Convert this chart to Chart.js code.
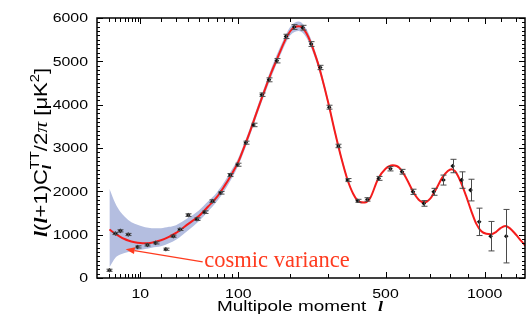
<!DOCTYPE html>
<html>
<head>
<meta charset="utf-8">
<script src="https://cdn.jsdelivr.net/npm/chart.js@4.4.1/dist/chart.umd.min.js"></script>
<style>
  html, body { margin: 0; padding: 0; background: #fff; }
  canvas { display: block; }
</style>
</head>
<body>
<canvas id="cmb" width="529" height="331"></canvas>
<script>
// Angular power spectrum D_l = l(l+1)C_l/2pi of the CMB temperature, in uK^2.

// Best-fit model curve
const modelL = [2, 3, 4, 5, 6, 8, 10, 12, 15, 20, 25, 30, 40, 50, 60, 70, 80, 90, 100, 110, 120, 130, 140, 150, 160, 170, 180, 190, 200, 210, 220, 230, 240, 250, 260, 270, 280, 300, 320, 340, 360, 380, 400, 420, 440, 470, 500, 530, 560, 590, 620, 650, 670, 700, 730, 760, 790, 810, 830, 860, 890, 920, 950, 980, 1010, 1040, 1070, 1100, 1130, 1160, 1200, 1240, 1280];
const modelD = [1120, 1020, 950, 900, 865, 825, 805, 800, 815, 870, 950, 1040, 1250, 1430, 1650, 1860, 2120, 2390, 2680, 3050, 3420, 3800, 4150, 4480, 4780, 5040, 5300, 5530, 5700, 5790, 5810, 5770, 5640, 5450, 5220, 4970, 4680, 4050, 3380, 2780, 2280, 1940, 1760, 1740, 1840, 2280, 2520, 2600, 2530, 2280, 1980, 1780, 1740, 1830, 2060, 2310, 2470, 2510, 2460, 2220, 1900, 1550, 1250, 1080, 1020, 1010, 1060, 1150, 1200, 1150, 1010, 850, 700];

// Cosmic variance band around the model
const bandL  = [2, 3, 4, 5, 6, 8, 10, 12, 15, 20, 25, 30, 40, 50, 60, 70, 80, 90, 100, 120, 140, 160, 180, 200, 220, 240, 260, 280, 300, 330, 360];
const bandLo = [250, 470, 540, 575, 600, 630, 650, 670, 700, 730, 800, 880, 1100, 1310, 1540, 1760, 2010, 2290, 2590, 3330, 4060, 4680, 5200, 5600, 5700, 5540, 5130, 4600, 3980, 3000, 2230];
const bandHi = [2060, 1720, 1530, 1420, 1340, 1250, 1205, 1170, 1150, 1150, 1180, 1220, 1390, 1560, 1770, 1970, 2220, 2490, 2770, 3510, 4240, 4880, 5400, 5800, 5920, 5740, 5310, 4760, 4120, 3120, 2330];

// Measured band powers with 1-sigma errors
const dataL   = [2, 3, 4, 6, 9, 13, 17, 23, 28, 33, 40, 48, 56, 65, 75, 88, 99, 112, 125, 140, 154, 170, 190, 209, 230, 252, 277, 303, 331, 361, 395, 430, 473, 520, 569, 618, 669, 717, 767, 816, 865, 916, 967, 1037, 1137];
const dataD   = [178, 1027, 1088, 1004, 717, 763, 810, 664, 965, 1120, 1451, 1358, 1520, 1774, 1966, 2376, 2614, 3123, 3532, 4230, 4573, 5013, 5575, 5792, 5776, 5399, 4858, 3942, 3047, 2260, 1781, 1813, 2299, 2521, 2452, 1989, 1721, 1989, 2260, 2584, 2260, 2029, 1296, 965, 965];
const dataErr = [25, 25, 25, 25, 25, 25, 25, 25, 25, 25, 30, 30, 30, 30, 30, 35, 35, 35, 40, 40, 45, 50, 50, 55, 55, 55, 50, 45, 40, 35, 35, 40, 45, 50, 55, 60, 65, 80, 115, 155, 190, 250, 316, 340, 617];

// Axis ticks
const xMajorTicks = [10, 100, 500, 1000];
const xMinorTicks = [2, 3, 4, 5, 6, 7, 8, 9, 20, 30, 40, 50, 60, 70, 80, 90, 200, 300, 400, 600, 700, 800, 900, 1100, 1200];
const yStep = 1000;
const yMinorStep = 100;

// Annotation anchors (multipole, uK^2)
const noteTip  = { l: 5.3, d: 665 };
const noteTail = { l: 54, d: 370 };
const noteText = { l: 55.7, d: 247 };

const pts = (xs, ys) => xs.map((x, i) => ({ x: x, y: ys[i] }));

// Multipole axis that spaces l as l^p (p = 0.4): stretched at low l, compressed at high l
class PowerScale extends Chart.Scale {
  static id = 'power';
  static defaults = {};
  determineDataLimits() {
    this.min = this.options.min;
    this.max = this.options.max;
  }
  buildTicks() {
    return (this.options.tickValues || []).map(v => ({ value: v }));
  }
  configure() {
    super.configure();
    const p = this.options.exponent;
    this._t0 = Math.pow(this.min, p);
    this._t1 = Math.pow(this.max, p);
  }
  getPixelForValue(v) {
    const p = this.options.exponent;
    return this.getPixelForDecimal((Math.pow(v, p) - this._t0) / (this._t1 - this._t0));
  }
  getValueForPixel(px) {
    const p = this.options.exponent;
    const t = this._t0 + this.getDecimalForPixel(px) * (this._t1 - this._t0);
    return Math.pow(t, 1 / p);
  }
  getPixelForTick(i) {
    return this.getPixelForValue(this.ticks[i].value);
  }
  getLabelForValue(v) {
    return String(Math.round(v));
  }
}
Chart.register(PowerScale);

const SANS = '"Liberation Sans", Arial, Helvetica, sans-serif';
const SERIF = '"Liberation Serif", "Times New Roman", serif';

function stretchText(ctx, str, x, y, font, sx, align) {
  ctx.save();
  ctx.font = font;
  ctx.translate(x, y);
  ctx.scale(sx, 1);
  ctx.textAlign = align;
  ctx.textBaseline = 'alphabetic';
  ctx.fillText(str, 0, 0);
  ctx.restore();
}

// Lays out a run of styled pieces along the baseline from the origin and
// returns its advance width. Pieces with stack:true share their start with
// the following piece (sub- and superscript over each other).
function richRun(ctx, pieces, draw) {
  let x = 0;
  for (let i = 0; i < pieces.length; i++) {
    const p = pieces[i];
    ctx.font = p.font;
    const w = ctx.measureText(p.text).width;
    if (draw) ctx.fillText(p.text, x, p.dy || 0);
    if (p.stack) {
      const q = pieces[i + 1];
      ctx.font = q.font;
      const w2 = ctx.measureText(q.text).width;
      if (draw) ctx.fillText(q.text, x, q.dy || 0);
      x += Math.max(w, w2);
      i++;
    } else {
      x += w;
    }
  }
  return x;
}

const decor = {
  id: 'decor',
  afterDatasetsDraw(chart) {
    const ctx = chart.ctx;
    const xs = chart.scales.x, ys = chart.scales.y;
    const a = chart.chartArea;
    ctx.save();
    ctx.beginPath();
    ctx.rect(a.left, a.top, a.right - a.left, a.bottom - a.top);
    ctx.clip();
    ctx.strokeStyle = '#4a4a4a';
    ctx.lineWidth = 1;
    for (let i = 0; i < dataL.length; i++) {
      const px = Math.round(xs.getPixelForValue(dataL[i])) + 0.5;
      const y1 = ys.getPixelForValue(dataD[i] - dataErr[i]);
      const y2 = ys.getPixelForValue(dataD[i] + dataErr[i]);
      ctx.beginPath();
      ctx.moveTo(px, y1); ctx.lineTo(px, y2);
      ctx.moveTo(px - 3, y1); ctx.lineTo(px + 3, y1);
      ctx.moveTo(px - 3, y2); ctx.lineTo(px + 3, y2);
      ctx.stroke();
    }
    ctx.restore();
  },
  afterDraw(chart) {
    const ctx = chart.ctx;
    const xs = chart.scales.x, ys = chart.scales.y;
    const a = chart.chartArea;
    ctx.save();
    ctx.fillStyle = '#000';
    ctx.strokeStyle = '#000';

    // frame
    ctx.lineWidth = 1.5;
    ctx.strokeRect(a.left, a.top, a.right - a.left, a.bottom - a.top);

    // inward ticks on all four sides
    ctx.lineWidth = 1;
    ctx.beginPath();
    const xTick = (v, len) => {
      const px = Math.round(xs.getPixelForValue(v)) + 0.5;
      ctx.moveTo(px, a.bottom); ctx.lineTo(px, a.bottom - len);
      ctx.moveTo(px, a.top); ctx.lineTo(px, a.top + len);
    };
    xMinorTicks.forEach(v => xTick(v, 4));
    xMajorTicks.forEach(v => xTick(v, 6));
    for (let v = ys.min; v <= ys.max; v += yMinorStep) {
      const py = Math.round(ys.getPixelForValue(v)) + 0.5;
      const len = (v % yStep === 0) ? 6 : 3;
      ctx.moveTo(a.left, py); ctx.lineTo(a.left + len, py);
      ctx.moveTo(a.right, py); ctx.lineTo(a.right - len, py);
    }
    ctx.stroke();

    // tick labels
    const tickFont = '12.5px ' + SANS;
    ys.ticks.forEach((t, i) => {
      const py = ys.getPixelForTick(i);
      stretchText(ctx, String(t.label), a.left - 9, py + 4.4, tickFont, 1.27, 'right');
    });
    xs.ticks.forEach((t, i) => {
      const px = xs.getPixelForTick(i);
      stretchText(ctx, String(t.label), px, a.bottom + 20, tickFont, 1.27, 'center');
    });

    // x title
    stretchText(ctx, 'Multipole moment', 217, 311, '14px ' + SANS, 1.35, 'left');
    stretchText(ctx, 'l', 378, 311, 'italic bold 15px ' + SERIF, 1.2, 'left');

    // y title, rotated, fitted to its run length
    const lf = 'italic bold 18px ' + SERIF;
    const sf = '18px ' + SANS;
    const yTitle = [
      { text: 'l', font: lf },
      { text: '(', font: sf },
      { text: 'l', font: lf },
      { text: '+1)C', font: sf },
      { text: 'l', font: 'italic bold 12.5px ' + SERIF, dy: 4, stack: true },
      { text: 'TT', font: '12px ' + SANS, dy: -8 },
      { text: '/2', font: sf },
      { text: '\u03C0', font: 'italic 18px ' + SERIF },
      { text: ' [\u03BCK', font: sf },
      { text: '2', font: '12px ' + SANS, dy: -8 },
      { text: ']', font: sf }
    ];
    ctx.save();
    ctx.textAlign = 'left';
    ctx.textBaseline = 'alphabetic';
    const runW = richRun(ctx, yTitle, false);
    ctx.translate(46.5, 237);
    ctx.rotate(-Math.PI / 2);
    ctx.scale(169 / runW, 1);
    richRun(ctx, yTitle, true);
    ctx.restore();

    // cosmic variance note and arrow
    const red = '#ff3b1f';
    const tx = xs.getPixelForValue(noteTail.l), ty = ys.getPixelForValue(noteTail.d);
    const hx = xs.getPixelForValue(noteTip.l), hy = ys.getPixelForValue(noteTip.d);
    const ang = Math.atan2(hy - ty, hx - tx);
    const hl = 9, hw = 3.5;
    const bx = hx - hl * Math.cos(ang), by = hy - hl * Math.sin(ang);
    ctx.strokeStyle = red;
    ctx.fillStyle = red;
    ctx.lineWidth = 1.2;
    ctx.beginPath();
    ctx.moveTo(tx, ty); ctx.lineTo(bx, by);
    ctx.stroke();
    ctx.beginPath();
    ctx.moveTo(hx, hy);
    ctx.lineTo(bx + hw * Math.sin(ang), by - hw * Math.cos(ang));
    ctx.lineTo(bx - hw * Math.sin(ang), by + hw * Math.cos(ang));
    ctx.closePath();
    ctx.fill();
    ctx.font = '22.5px ' + SERIF;
    ctx.textAlign = 'left';
    ctx.textBaseline = 'alphabetic';
    ctx.fillText('cosmic variance', xs.getPixelForValue(noteText.l), ys.getPixelForValue(noteText.d));

    ctx.restore();
  }
};

new Chart(document.getElementById('cmb'), {
  type: 'line',
  data: {
    datasets: [
      {
        label: 'data',
        data: pts(dataL, dataD),
        showLine: false,
        pointStyle: 'rectRot',
        pointRadius: 2.3,
        pointBackgroundColor: '#111',
        pointBorderWidth: 0
      },
      {
        label: 'model',
        data: pts(modelL, modelD),
        borderColor: '#f51c1c',
        borderWidth: 2,
        pointRadius: 0,
        cubicInterpolationMode: 'monotone',
        fill: false
      },
      {
        label: 'cosmic variance upper',
        data: pts(bandL, bandHi),
        borderWidth: 0,
        pointRadius: 0,
        cubicInterpolationMode: 'monotone',
        backgroundColor: '#b4bee0',
        fill: '+1'
      },
      {
        label: 'cosmic variance lower',
        data: pts(bandL, bandLo),
        borderWidth: 0,
        pointRadius: 0,
        cubicInterpolationMode: 'monotone',
        fill: false
      }
    ]
  },
  options: {
    responsive: false,
    animation: false,
    events: [],
    layout: { padding: { left: 0, right: 1, top: 18, bottom: 0 } },
    plugins: { legend: { display: false }, tooltip: { enabled: false } },
    scales: {
      x: {
        type: 'power',
        position: 'bottom',
        exponent: 0.4,
        min: 0.644,
        max: 1265,
        tickValues: xMajorTicks,
        ticks: { display: false, callback: v => String(v) },
        grid: { display: false },
        border: { display: false },
        afterFit: s => { s.height = 53; }
      },
      y: {
        type: 'linear',
        position: 'left',
        min: 0,
        max: 6000,
        ticks: { display: false, stepSize: yStep, callback: v => String(v) },
        grid: { display: false },
        border: { display: false },
        afterFit: s => { s.width = 97; }
      }
    }
  },
  plugins: [decor]
});
</script>
</body>
</html>
